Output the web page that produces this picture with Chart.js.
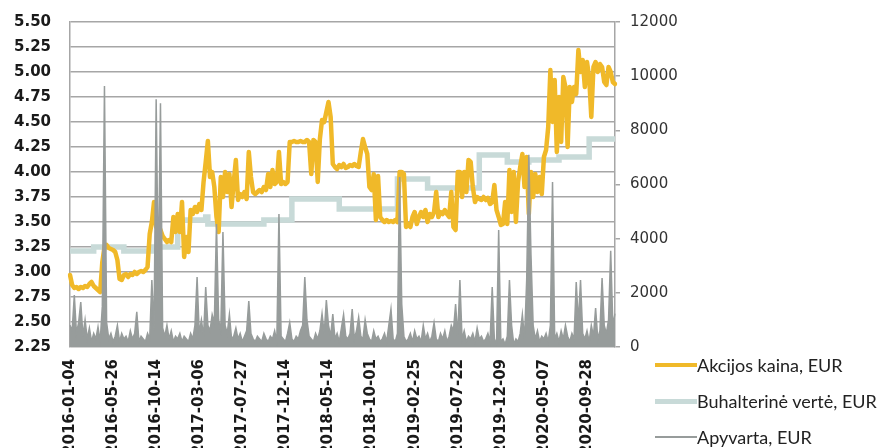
<!DOCTYPE html>
<html><head><meta charset="utf-8">
<script src="https://cdn.jsdelivr.net/npm/chart.js@4.4.0/dist/chart.umd.min.js"></script>
<style>
html,body{margin:0;padding:0;background:#fff;}
#wrap{position:relative;width:878px;height:448px;overflow:hidden;}
#c{position:absolute;left:0;top:0;}
.leg{position:absolute;left:655px;height:24px;display:flex;align-items:center;font-family:Lato,"Open Sans",sans-serif;font-size:18px;color:#222;white-space:nowrap;}
.sw{width:42px;margin-right:0;}
</style></head>
<body>
<div id="wrap">
<canvas id="c" width="878" height="448"></canvas>
<div class="leg" style="top:353px"><span class="sw" style="height:4px;background:#f0b929"></span><span>Akcijos kaina, EUR</span></div>
<div class="leg" style="top:389px"><span class="sw" style="height:5px;background:#c8dad8"></span><span>Buhalterinė vertė, EUR</span></div>
<div class="leg" style="top:425px"><span class="sw" style="height:2px;background:#979c9b"></span><span>Apyvarta, EUR</span></div>
</div>
<script>
// tick labels every 20 weekly samples (~100 trading days)
const tickDates = ["2016-01-04","2016-05-26","2016-10-14","2017-03-06","2017-07-27","2017-12-14","2018-05-14","2018-10-01","2019-02-25","2019-07-22","2019-12-09","2020-05-07","2020-09-28"];
const tickEvery = 20;

// weekly samples, share price EUR (left axis)
const price = [
2.97,2.87,2.84,2.85,2.83,2.85,2.84,2.86,2.85,2.88,
2.90,2.86,2.84,2.82,2.80,3.10,3.25,3.27,3.24,3.23,
3.22,3.20,3.12,2.93,2.92,2.97,2.98,2.95,2.98,2.97,
3.00,2.98,3.00,3.01,3.00,3.02,3.05,3.38,3.50,3.70,
3.45,3.48,3.42,3.36,3.33,3.30,3.32,3.30,3.55,3.40,
3.58,3.40,3.70,3.15,3.35,3.20,3.62,3.58,3.65,3.60,
3.68,3.62,3.90,4.10,4.31,3.95,4.00,3.85,3.55,3.40,
3.95,3.75,4.00,3.80,3.98,3.65,3.90,4.12,3.72,3.78,
3.75,3.80,3.73,4.20,3.95,3.80,3.78,3.80,3.82,3.80,
3.85,3.82,3.98,3.85,4.02,3.88,3.90,4.20,3.88,3.90,
3.88,3.90,4.30,4.30,4.31,4.30,4.30,4.31,4.30,4.30,
4.32,4.30,3.98,4.32,4.30,3.90,4.33,4.52,4.50,4.60,
4.70,4.55,4.08,4.05,4.03,4.07,4.05,4.08,4.04,4.05,
4.07,4.06,4.08,4.06,4.05,4.20,4.33,4.25,4.18,3.85,
3.82,3.98,3.52,3.96,3.55,3.52,3.50,3.52,3.50,3.51,
3.50,3.52,3.50,4.00,4.00,3.98,3.45,3.48,3.45,3.55,
3.60,3.48,3.55,3.60,3.55,3.62,3.50,3.58,3.55,3.60,
3.80,3.55,3.60,3.58,3.62,3.58,3.55,3.80,3.45,3.42,
4.00,4.00,3.75,4.00,3.80,4.12,4.10,3.85,3.70,3.75,
3.73,3.72,3.75,3.72,3.74,3.68,3.70,3.87,3.62,3.55,
3.47,3.48,3.70,3.48,4.02,3.60,4.00,3.50,3.90,4.05,
4.18,3.85,4.15,3.58,4.00,3.75,3.98,3.80,3.95,3.78,
4.15,4.22,4.45,5.02,4.50,4.92,4.20,4.75,4.30,4.95,
4.85,4.25,4.85,4.70,4.85,4.78,5.22,5.00,5.12,4.85,
5.10,4.95,4.55,5.05,5.10,5.00,5.08,5.05,4.90,4.87,
5.05,5.00,4.90,4.88
];

// weekly samples, book value per share EUR (left axis)
const bookValue = [
3.21,3.21,3.21,3.21,3.21,3.21,3.21,3.21,3.21,3.21,
3.21,3.25,3.25,3.25,3.25,3.25,3.25,3.25,3.25,3.25,
3.25,3.25,3.25,3.25,3.25,3.21,3.21,3.21,3.21,3.21,
3.21,3.21,3.21,3.21,3.21,3.21,3.21,3.21,3.25,3.25,
3.25,3.25,3.25,3.25,3.25,3.25,3.25,3.25,3.25,3.25,
3.52,3.52,3.52,3.52,3.52,3.52,3.52,3.52,3.52,3.52,
3.52,3.52,3.52,3.55,3.48,3.48,3.48,3.48,3.48,3.48,
3.48,3.48,3.48,3.48,3.48,3.48,3.48,3.48,3.48,3.48,
3.48,3.48,3.48,3.48,3.48,3.48,3.48,3.48,3.48,3.48,
3.52,3.52,3.52,3.52,3.52,3.52,3.52,3.52,3.52,3.52,
3.52,3.52,3.52,3.73,3.73,3.73,3.73,3.73,3.73,3.73,
3.73,3.73,3.73,3.73,3.73,3.73,3.73,3.73,3.73,3.73,
3.73,3.73,3.73,3.73,3.73,3.63,3.63,3.63,3.63,3.63,
3.63,3.63,3.63,3.63,3.63,3.63,3.63,3.63,3.63,3.63,
3.63,3.63,3.63,3.63,3.63,3.63,3.63,3.63,3.63,3.63,
3.63,3.63,3.93,3.93,3.93,3.93,3.93,3.93,3.93,3.93,
3.93,3.93,3.93,3.93,3.93,3.93,3.84,3.84,3.84,3.84,
3.84,3.84,3.84,3.84,3.84,3.84,3.84,3.84,3.84,3.84,
3.84,3.84,3.84,3.84,3.84,3.84,3.84,3.84,3.84,3.84,
4.17,4.17,4.17,4.17,4.17,4.17,4.17,4.17,4.17,4.17,
4.17,4.17,4.17,4.10,4.10,4.10,4.10,4.10,4.10,4.10,
4.10,4.10,4.10,4.12,4.12,4.12,4.12,4.12,4.12,4.12,
4.12,4.12,4.12,4.12,4.12,4.12,4.12,4.15,4.15,4.15,
4.15,4.15,4.15,4.15,4.15,4.15,4.15,4.15,4.15,4.15,
4.15,4.33,4.33,4.33,4.33,4.33,4.33,4.33,4.33,4.33,
4.33,4.33,4.33,4.33
];

// weekly samples, turnover EUR (right axis)
const turnover = [
800,600,1920,500,900,1660,400,1000,300,700,
200,500,300,740,200,1500,9640,900,300,500,
200,400,800,200,500,300,400,200,600,300,
500,1300,200,400,300,200,500,300,2470,600,
9150,2500,9000,700,400,800,300,600,200,400,
300,500,200,400,300,200,500,300,800,2580,
500,1000,400,2215,800,600,1200,900,4540,1000,
600,4245,800,500,1200,300,400,700,300,500,
200,400,600,1700,500,300,200,400,300,200,
500,300,200,400,300,600,200,4910,400,300,
200,500,900,300,200,400,300,600,800,2580,
1000,400,300,200,500,300,600,1230,500,1735,
800,400,1220,300,500,200,700,1200,400,300,
500,1400,300,600,1100,400,300,1000,500,300,
200,600,300,400,200,300,500,200,800,1400,
300,200,500,6280,1590,400,200,300,500,200,
600,300,400,200,800,300,500,200,400,900,
300,200,500,300,600,200,400,800,600,1590,
400,2470,300,600,200,400,300,500,200,700,
300,400,200,300,500,200,2215,300,100,4320,
200,300,100,400,2470,800,100,300,200,500,
1200,300,2470,7100,3400,800,300,600,200,400,
300,500,200,800,6090,300,500,200,600,300,
800,400,200,500,300,2400,900,2470,500,300,
600,200,800,400,1440,300,600,2550,800,500,
1000,3550,800,1230
];

const labels = price.map((_, i) => (i % tickEvery === 0 && tickDates[i / tickEvery]) ? tickDates[i / tickEvery] : '');

const gridCol = '#a6a6a6';
new Chart(document.getElementById('c'), {
  type: 'line',
  data: {
    labels,
    datasets: [
      { label: 'Apyvarta, EUR', data: turnover, yAxisID: 'y2', borderColor: '#979c9b', backgroundColor: '#979c9b', fill: 'origin', borderWidth: 1.5, pointRadius: 0, order: 0, tension: 0 },
      { label: 'Akcijos kaina, EUR', data: price, yAxisID: 'y', borderColor: '#f0b929', borderWidth: 4.5, pointRadius: 0, order: 1, borderJoinStyle: 'round', borderCapStyle: 'round' },
      { label: 'Buhalterinė vertė, EUR', data: bookValue, yAxisID: 'y', borderColor: '#c8dad8', borderWidth: 5.5, pointRadius: 0, order: 2, stepped: true }
    ]
  },
  options: {
    responsive: false,
    animation: false,
    layout: { padding: { top: 22, left: 0, right: 0, bottom: 0 } },
    plugins: { legend: { display: false }, tooltip: { enabled: false } },
    scales: {
      x: {
        type: 'category',
        offset: false,
        grid: { display: false, drawTicks: false },
        border: { display: false },
        ticks: {
          autoSkip: false, minRotation: 90, maxRotation: 90, padding: 12,
          color: '#1a1a1a', font: { family: '"DejaVu Sans"', weight: 'bold', size: 15 }
        },
        afterFit(s) { s.height = 101; }
      },
      y: {
        position: 'left', min: 2.25, max: 5.5,
        grid: { color: gridCol, lineWidth: 1.5, drawTicks: false },
        border: { display: true, color: gridCol, width: 1.5 },
        ticks: {
          stepSize: 0.25, padding: 19, color: '#1a1a1a',
          font: { family: '"DejaVu Sans"', weight: 'bold', size: 15 },
          callback: v => Number(v).toFixed(2)
        },
        afterFit(s) { s.width = 70; s.paddingTop = 0; s.paddingBottom = 0; }
      },
      y2: {
        position: 'right', min: 0, max: 12000,
        grid: { drawOnChartArea: false, drawTicks: true, tickLength: 5, color: gridCol, lineWidth: 1.5 },
        border: { display: true, color: gridCol, width: 1.5 },
        ticks: {
          stepSize: 2000, padding: 10, color: '#333',
          font: { family: '"DejaVu Sans"', size: 15 },
          callback: v => String(v)
        },
        afterFit(s) { s.width = 263; s.paddingTop = 0; s.paddingBottom = 0; }
      }
    }
  }
});
</script>
</body></html>
